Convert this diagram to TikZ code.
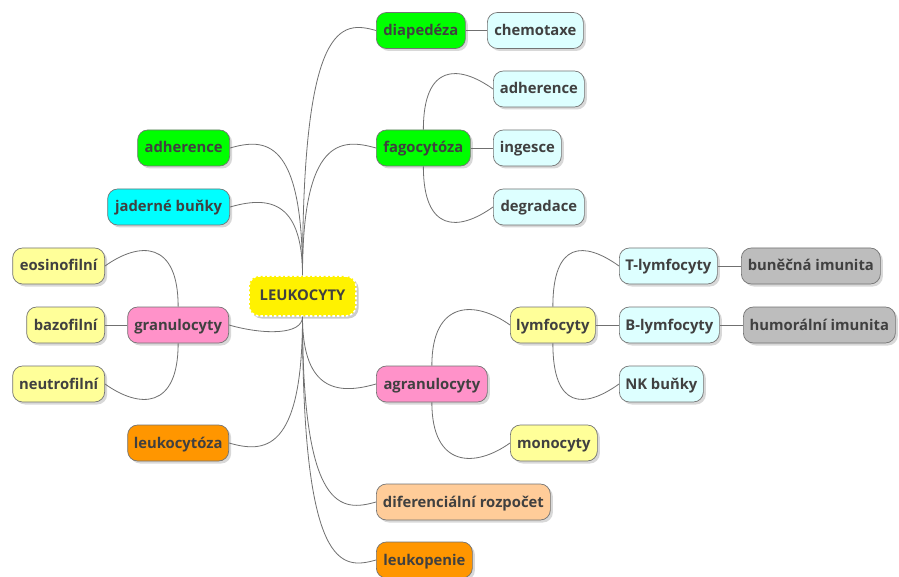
\documentclass[tikz,border=0pt]{standalone}
\usepackage{fontspec}
\setmainfont{Open Sans}
\usetikzlibrary{calc,shadows}
\definecolor{txt}{HTML}{404040}
\definecolor{lnk}{HTML}{707070}
\definecolor{cGreen}{HTML}{00FF00}
\definecolor{cLCyan}{HTML}{DDFFFF}
\definecolor{cCyan}{HTML}{00FFFF}
\definecolor{cLYellow}{HTML}{FFFF99}
\definecolor{cPink}{HTML}{FF92C9}
\definecolor{cOrange}{HTML}{FF9600}
\definecolor{cPeach}{HTML}{FFCC99}
\definecolor{cGray}{HTML}{BDBDBD}
\begin{document}
\begin{tikzpicture}[x=1pt,y=-1pt,
  box/.style={draw=black!55, line width=0.7pt, rounded corners=10pt,
    minimum height=36pt, inner xsep=2pt, inner ysep=0pt,
    text height=12pt, text depth=2pt,
    font=\fontsize{14.8}{16}\selectfont\bfseries, text=txt,
    drop shadow={shadow xshift=2.5pt, shadow yshift=-2.5pt, opacity=0.3}},
  rootbox/.style={fill=yellow, draw=white, dash pattern=on 2.5pt off 2pt,
    line width=1.6pt, rounded corners=10pt, minimum width=107pt,
    minimum height=40pt, inner sep=0pt, text height=12pt, text depth=2pt,
    font=\fontsize{14.8}{16}\selectfont\bfseries, text=txt,
    drop shadow={shadow xshift=2.5pt, shadow yshift=-2.5pt, opacity=0.4}},
  link/.style={draw=lnk, line width=0.8pt},
  bR/.style={to path={.. controls ($(\tikztostart |- \tikztotarget)+(0,#1)$) and ($(\tikztotarget)+(-35,#1)$) .. (\tikztotarget)}},
  bL/.style={to path={.. controls ($(\tikztostart |- \tikztotarget)+(0,#1)$) and ($(\tikztotarget)+(35,#1)$) .. (\tikztotarget)}},
  gr/.style={box, fill=cGreen},
  lc/.style={box, fill=cLCyan},
  ly/.style={box, fill=cLYellow},
  pk/.style={box, fill=cPink},
  og/.style={box, fill=cOrange},
  pc/.style={box, fill=cPeach},
  gy/.style={box, fill=cGray},
  cy/.style={box, fill=cCyan}
]
\fill[white] (0,0) rectangle (899,577);
\useasboundingbox (0,0) rectangle (899,577);

% root
\node[rootbox] (root) at (302.5,296) {LEUKOCYTY};

% right side
\node[gr, anchor=west, minimum width=89pt]  (dia)   at (376,30.5)  {diapedéza};
\node[lc, anchor=west, minimum width=96pt]  (chem)  at (487,30.5)  {chemotaxe};
\node[gr, anchor=west, minimum width=94pt]  (fag)   at (376,148) {fagocytóza};
\node[lc, anchor=west, minimum width=91pt]  (adhR)  at (493,89)  {adherence};
\node[lc, anchor=west, minimum width=68pt]  (ing)   at (493,148) {ingesce};
\node[lc, anchor=west, minimum width=91pt]  (deg)   at (493,207) {degradace};
\node[pk, anchor=west, minimum width=111pt] (agr)   at (376,384) {agranulocyty};
\node[ly, anchor=west, minimum width=85pt]  (lym)   at (510,325) {lymfocyty};
\node[ly, anchor=west, minimum width=87pt]  (mono)  at (510,443) {monocyty};
\node[lc, anchor=west, minimum width=98pt]  (tly)   at (619,266) {T-lymfocyty};
\node[lc, anchor=west, minimum width=100pt] (bly)   at (619,325) {B-lymfocyty};
\node[lc, anchor=west, minimum width=84pt]  (nk)    at (619,384) {NK buňky};
\node[gy, anchor=west, minimum width=139pt] (bun)   at (741,266) {buněčná imunita};
\node[gy, anchor=west, minimum width=152pt] (hum)   at (743,325) {humorální imunita};
\node[pc, anchor=west, minimum width=174pt] (dif)   at (376,502) {diferenciální rozpočet};
\node[og, anchor=west, minimum width=96pt]  (leukp) at (376,560) {leukopenie};

% left side
\node[gr, anchor=east, minimum width=92pt]  (adhL)  at (230,148) {adherence};
\node[cy, anchor=east, minimum width=122pt] (jad)   at (230,207) {jaderné buňky};
\node[ly, anchor=east, minimum width=92pt]  (eos)   at (105,266) {eosinofilní};
\node[ly, anchor=east, minimum width=78pt]  (baz)   at (105,325) {bazofilní};
\node[ly, anchor=east, minimum width=92pt]  (neu)   at (105,384) {neutrofilní};
\node[pk, anchor=east, minimum width=101pt] (gran)  at (229,325) {granulocyty};
\node[og, anchor=east, minimum width=101pt] (leuz)  at (229,443) {leukocytóza};

% connectors from root
\draw[link] (root.north) to[bR=-10] (dia.west);
\draw[link] (root.north) to[bR=-10] (fag.west);
\draw[link] (root.north) to[bL=-10] (adhL.east);
\draw[link] (root.north) to[bL=-10] (jad.east);
\draw[link] (root.south) to[bL=10] (gran.east);
\draw[link] (root.south) to[bL=10] (leuz.east);
\draw[link] (root.south) to[bR=10] (agr.west);
\draw[link] (root.south) to[bR=10] (dif.west);
\draw[link] (root.south) to[bR=10] (leukp.west);

% sub-branches
\draw[link] (dia.east) -- (chem.west);
\draw[link] (fag.north) to[bR=-25] (adhR.west);
\draw[link] (fag.east) -- (ing.west);
\draw[link] (fag.south) to[bR=25] (deg.west);
\draw[link] (gran.north) to[bL=-25] (eos.east);
\draw[link] (gran.west) -- (baz.east);
\draw[link] (gran.south) to[bL=25] (neu.east);
\draw[link] (agr.north) to[bR=-25] (lym.west);
\draw[link] (agr.south) to[bR=25] (mono.west);
\draw[link] (lym.north) to[bR=-25] (tly.west);
\draw[link] (lym.east) -- (bly.west);
\draw[link] (lym.south) to[bR=25] (nk.west);
\draw[link] (tly.east) -- (bun.west);
\draw[link] (bly.east) -- (hum.west);
\end{tikzpicture}
\end{document}
